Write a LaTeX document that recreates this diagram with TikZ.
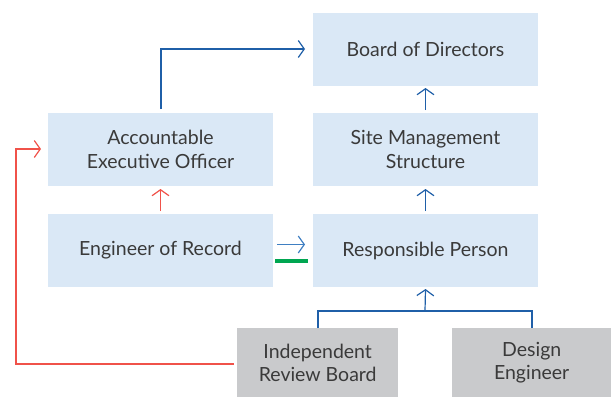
\documentclass[tikz,border=0pt]{standalone}
\usepackage{fontspec}
\setmainfont{Lato}
\usetikzlibrary{arrows.meta}
\definecolor{boxblue}{HTML}{DAE8F6}
\definecolor{boxgray}{HTML}{C9CACC}
\definecolor{lineblue}{HTML}{1F5FA8}
\definecolor{lightblue}{HTML}{3F7FC2}
\definecolor{linered}{HTML}{F0524A}
\definecolor{bargreen}{HTML}{00A651}
\definecolor{txt}{HTML}{3A3A3A}
\tikzset{
  box/.style={fill=boxblue, draw=none, minimum width=225pt, minimum height=73pt, align=center, text=txt, font=\fontsize{19.5pt}{23.5pt}\selectfont, inner sep=0pt},
  gbox/.style={box, fill=boxgray, minimum width=161pt, minimum height=69pt, anchor=north west},
  tip/.style={-{Straight Barb[length=6pt,width=17pt,line width=1.2pt]}},
  bl/.style={draw=lineblue, line width=1.2pt, tip},
  rl/.style={draw=linered, line width=1.2pt, tip},
}
\begin{document}
\begin{tikzpicture}[x=1pt,y=-1pt]
\useasboundingbox (0,0) rectangle (611,397);
\node[box] (bod) at (425.5,49.5) {Board of Directors};
\node[box] (aeo) at (160.5,149.5) {Accountable\\Executive Officer};
\node[box] (sms) at (425.5,149.5) {Site Management\\Structure};
\node[box] (eor) at (160.5,250.5) {Engineer of Record};
\node[box] (rp) at (425.5,250.5) {Responsible Person};
\node[gbox] (irb) at (237,328) {Independent\\Review Board};
\node[gbox, minimum width=159pt] (de) at (452,328) {Design\\Engineer};
% blue connectors
\coordinate (aeoTop) at (161,109);
\coordinate (bodIn) at (305,49);
\draw[bl] (aeoTop) |- (bodIn);
\draw[bl] (sms.north |- 0,110) -- (bod.south |- 0,88);
\draw[bl] (rp.north |- 0,211) -- (sms.south |- 0,189);
\coordinate (jn) at (425,311);
\draw[draw=lineblue, line width=1.2pt] (318,328) |- (532,311) -- (532,328);
\draw[bl] (jn) -- (rp.south |- 0,289);
\draw[draw=lightblue, line width=1.2pt, tip] (277,244.5) -- (305,244.5);
\fill[bargreen] (275,258.5) rectangle (308,263);
% red connectors
\draw[rl] (eor.north |- 0,211) -- (aeo.south |- 0,189);
\draw[rl] (234,364) -| (16,149) -- (41,149);
\end{tikzpicture}
\end{document}
